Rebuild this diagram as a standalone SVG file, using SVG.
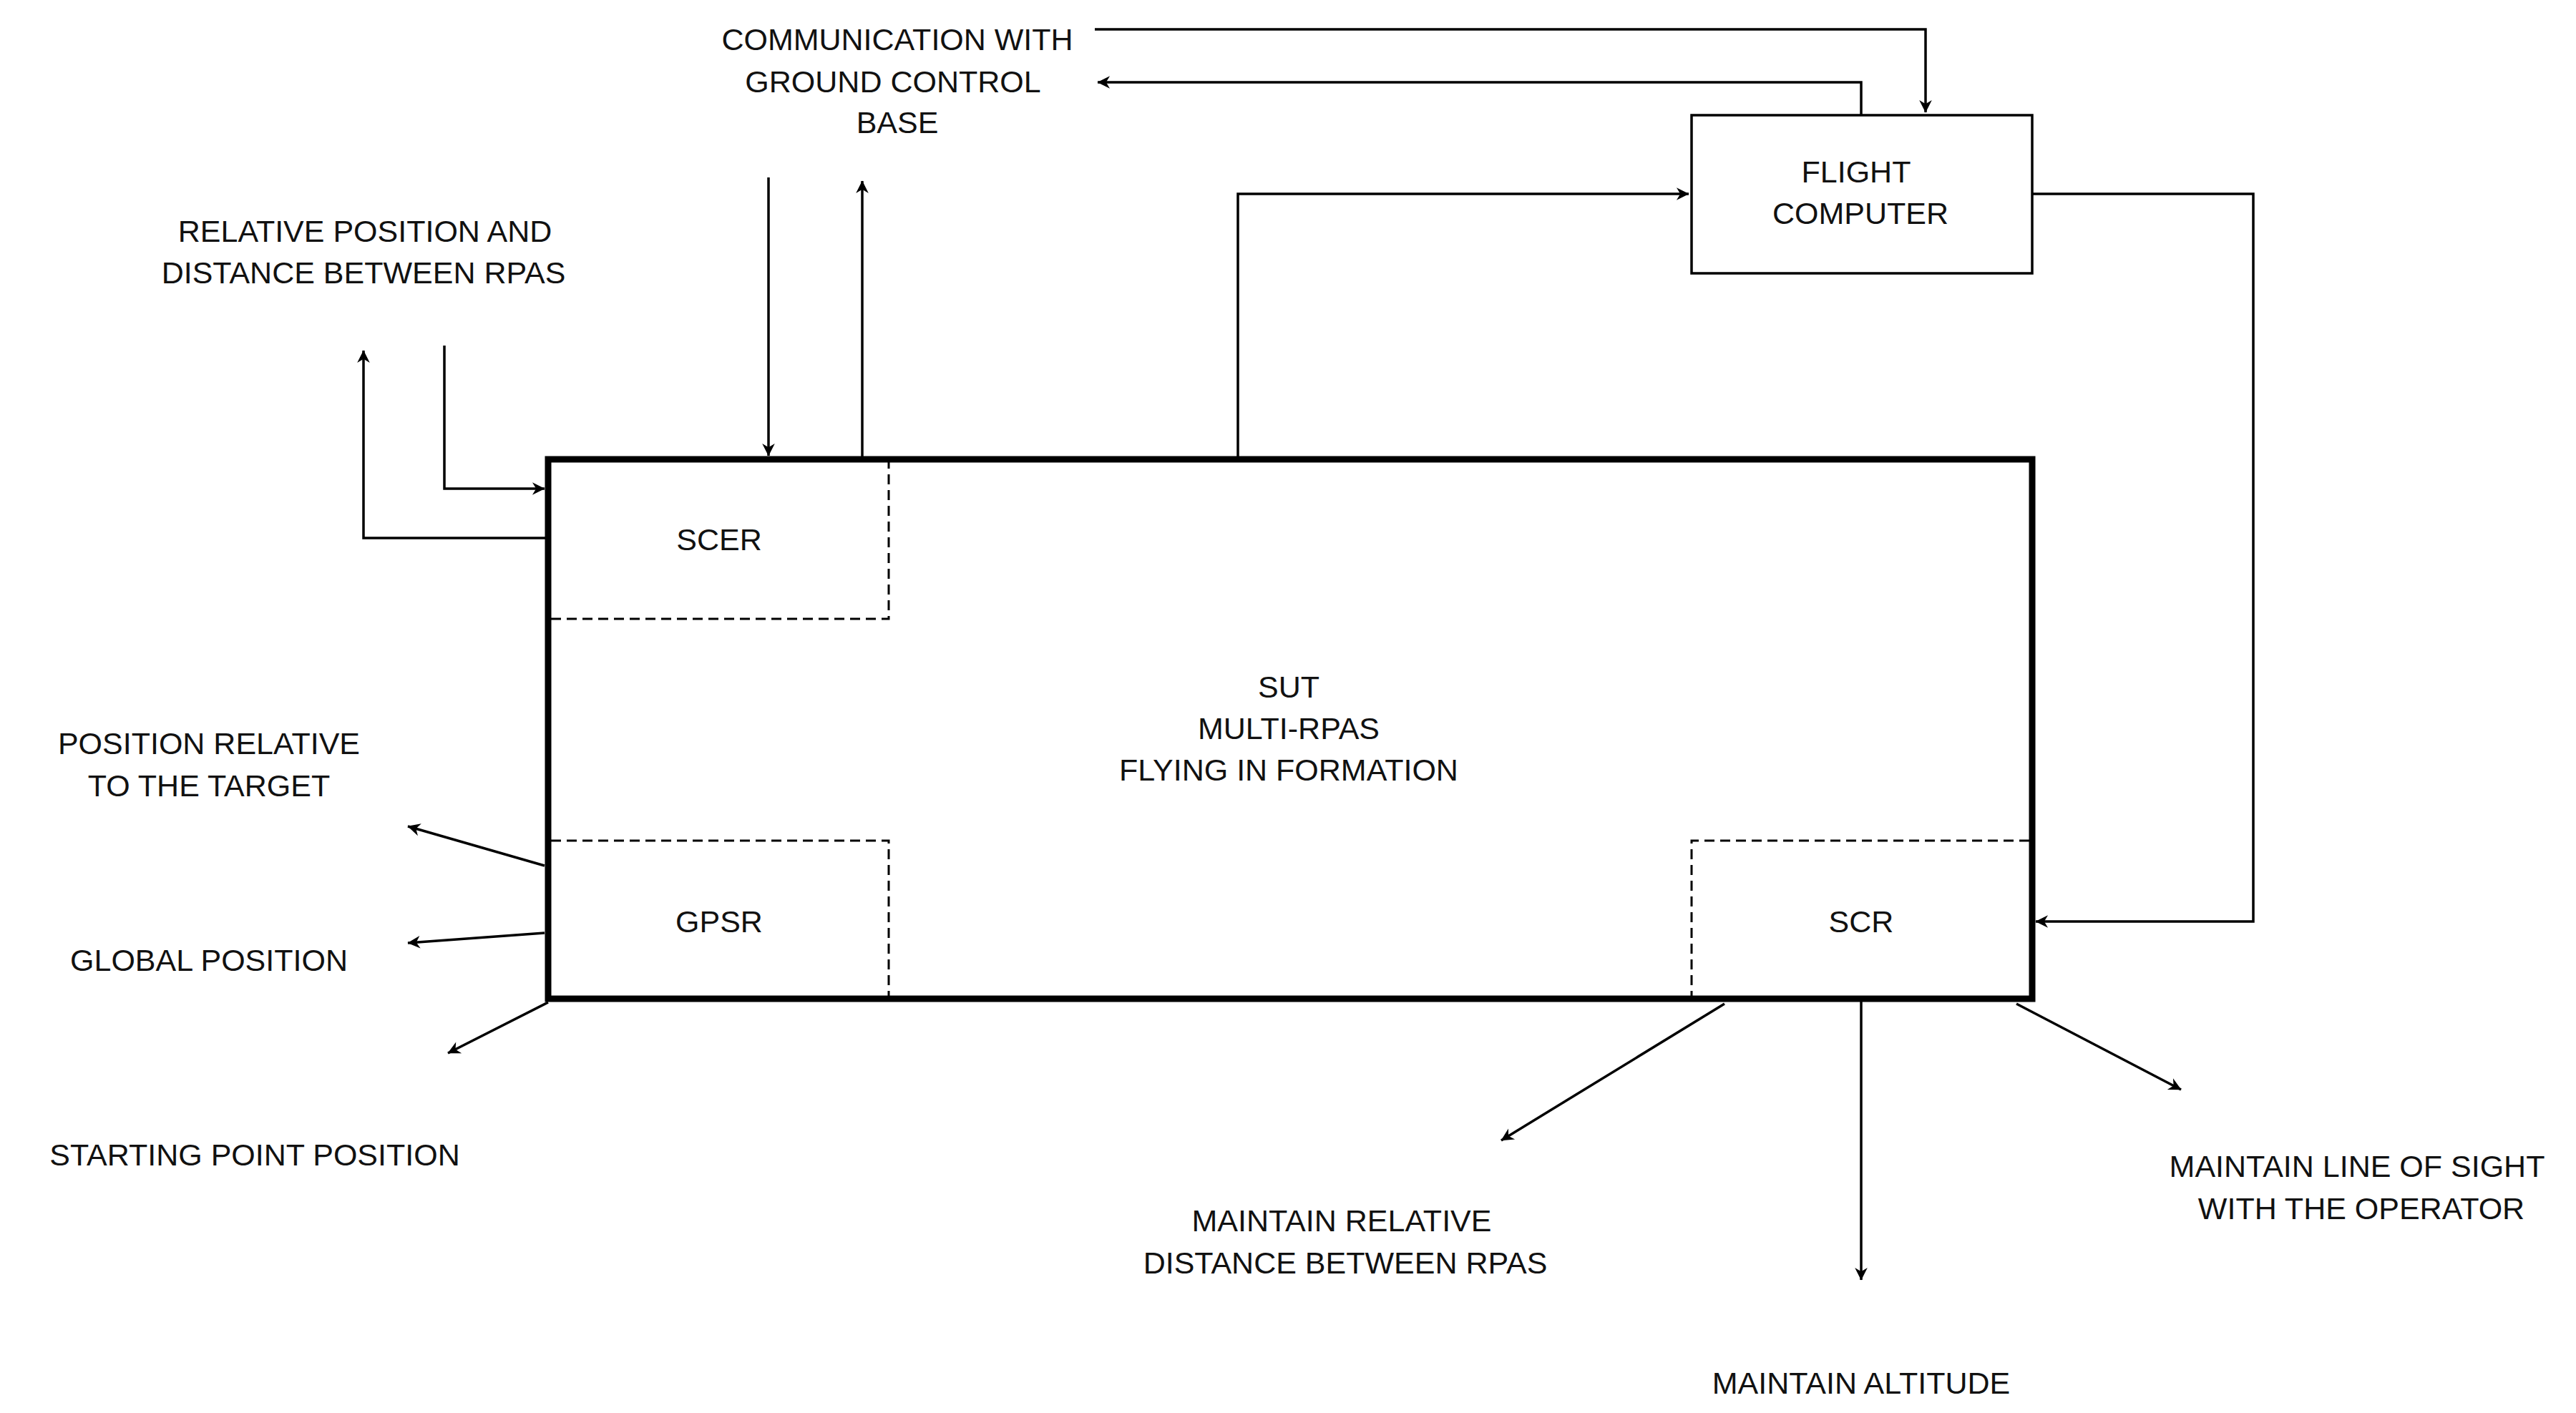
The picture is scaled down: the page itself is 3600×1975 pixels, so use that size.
<svg xmlns="http://www.w3.org/2000/svg" width="3600" height="1975" viewBox="0 0 3600 1975">
<style>
text{font-family:"Liberation Sans",Arial,sans-serif;font-size:43px;fill:#111;text-anchor:middle}
.c{fill:none;stroke:#000;stroke-width:3.5}
.d{fill:none;stroke:#000;stroke-width:3;stroke-dasharray:14,8}
</style>
<defs>
<marker id="a" viewBox="0 0 20 20" refX="19" refY="10" markerWidth="11" markerHeight="11" markerUnits="userSpaceOnUse" orient="auto" style="overflow:visible">
<path d="M0,0 L20,10 L0,20 L6,10 Z" fill="#000" transform="scale(1.6) translate(-7.5,-3.75)"/>
</marker>
</defs>
<rect width="3600" height="1975" fill="#fff"/>
<g id="sut">
<rect x="766" y="642" width="2074" height="754" fill="none" stroke="#000" stroke-width="9"/>
<text x="1801" y="975">SUT</text>
<text x="1801" y="1033">MULTI-RPAS</text>
<text x="1801" y="1091">FLYING IN FORMATION</text>
</g>
<g id="scer"><path class="d" d="M770,865 H1242 V646"/><text x="1005" y="769">SCER</text></g>
<g id="gpsr"><path class="d" d="M770,1175 H1242 V1392"/><text x="1005" y="1303">GPSR</text></g>
<g id="scr"><path class="d" d="M2836,1175 H2364 V1392"/><text x="2601" y="1303">SCR</text></g>
<g id="fc"><rect x="2364" y="161" width="476" height="221" fill="#fff" stroke="#000" stroke-width="3.5"/>
<text x="2594" y="255">FLIGHT</text><text x="2600" y="313">COMPUTER</text></g>
<g id="labels">
<text x="1254" y="70">COMMUNICATION WITH</text>
<text x="1248" y="129">GROUND CONTROL</text>
<text x="1254" y="186">BASE</text>
<text x="510" y="338">RELATIVE POSITION AND</text>
<text x="508" y="396">DISTANCE BETWEEN RPAS</text>
<text x="292" y="1054">POSITION RELATIVE</text>
<text x="292" y="1113">TO THE TARGET</text>
<text x="292" y="1357">GLOBAL POSITION</text>
<text x="356" y="1629">STARTING POINT POSITION</text>
<text x="1875" y="1721">MAINTAIN RELATIVE</text>
<text x="1880" y="1780">DISTANCE BETWEEN RPAS</text>
<text x="2601" y="1948">MAINTAIN ALTITUDE</text>
<text x="3294" y="1645">MAINTAIN LINE OF SIGHT</text>
<text x="3300" y="1704">WITH THE OPERATOR</text>
</g>
<g id="connectors">
<path class="c" d="M1530,41 H2691 V157" marker-end="url(#a)"/>
<path class="c" d="M2601,161 V115 H1534" marker-end="url(#a)"/>
<path class="c" d="M1074,248 V637" marker-end="url(#a)"/>
<path class="c" d="M1205,642 V253" marker-end="url(#a)"/>
<path class="c" d="M1730,638 V271 H2360" marker-end="url(#a)"/>
<path class="c" d="M2840,271 H3149 V1288 H2845" marker-end="url(#a)"/>
<path class="c" d="M762,752 H508 V490" marker-end="url(#a)"/>
<path class="c" d="M621,483 V683 H761" marker-end="url(#a)"/>
<path class="c" d="M761,1210 L570,1155" marker-end="url(#a)"/>
<path class="c" d="M761,1304 L570,1318" marker-end="url(#a)"/>
<path class="c" d="M766,1401 L626,1472" marker-end="url(#a)"/>
<path class="c" d="M2410,1403 L2098,1594" marker-end="url(#a)"/>
<path class="c" d="M2601,1400 V1789" marker-end="url(#a)"/>
<path class="c" d="M2818,1403 L3048,1523" marker-end="url(#a)"/>
</g>
</svg>
